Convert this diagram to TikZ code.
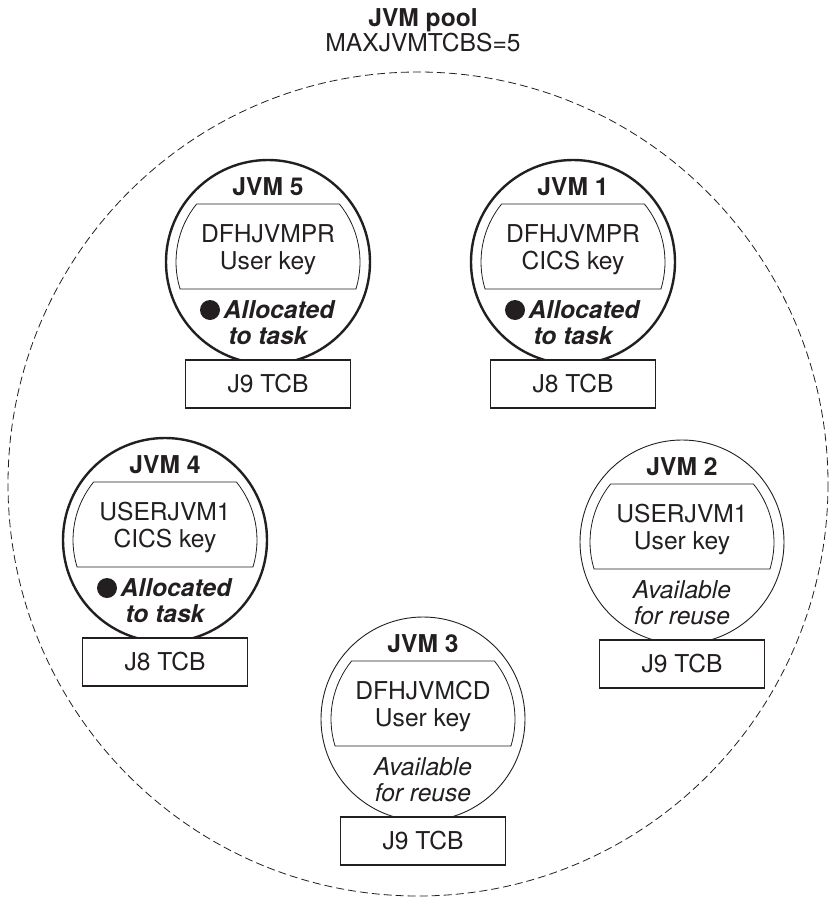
\documentclass[tikz,border=0pt]{standalone}
\usepackage{fontspec}
\setmainfont{TeX Gyre Heros}
\definecolor{ink}{HTML}{231F20}
\tikzset{
  txt/.style={inner sep=0pt, anchor=base, text=ink, font=\fontsize{24.6}{29}\selectfont},
  lbl/.style={txt, font=\fontsize{24.6}{29}\selectfont\bfseries},
  boldit/.style={txt, font=\fontsize{24.6}{29}\selectfont\bfseries\itshape},
  it/.style={txt, font=\fontsize{24.6}{29}\selectfont\itshape},
  alloccirc/.style={circle, draw=ink, line width=2.4pt, minimum size=204pt, inner sep=0pt},
  availcirc/.style={circle, draw=ink, line width=0.9pt, minimum size=204pt, inner sep=0pt},
  innershape/.style={draw=ink, line width=0.8pt},
  tcbbox/.style={draw=ink, line width=1.1pt, fill=white, minimum width=165pt, minimum height=48pt, inner sep=0pt},
  pool/.style={draw=ink, line width=0.8pt, dash pattern=on 8pt off 4pt},
}
\newcommand\jvmunit[9]{%
  % #1 name, #2 cx, #3 cy, #4 label, #5 line1, #6 line2, #7 alloc/avail, #8 box text, #9 status lines
  \begin{scope}[shift={(#2,#3)}]
    \node[#7circ] (#1) at (0,0) {};
    \draw[innershape] (-39.1:92) arc[start angle=-39.1, end angle=17.07, radius=92]
      -- (162.93:92) arc[start angle=162.93, end angle=219.1, radius=92] -- cycle;
    \node[lbl] (#1-lbl) at (0,-66.5) {#4};
    \node[txt] (#1-l1) at (0,-19.5) {#5};
    \node[txt] (#1-l2) at (0,7.5) {#6};
    #9
    \node[tcbbox] (#1-tcb) at (0,122) {};
    \node[txt] (#1-tcbt) at (0,130.5) {#8};
  \end{scope}%
}
\newcommand\allocstatus[1]{%
  \fill[ink] (-58,48) circle[radius=10];
  \node[boldit] (#1-s1) at (11,56.5) {Allocated};
  \node[boldit] (#1-s2) at (0,82.5) {to task};
}
\newcommand\availstatus[1]{%
  \node[it] (#1-s1) at (0,56.5) {Available};
  \node[it] (#1-s2) at (0,82.5) {for reuse};
}
\begin{document}
\begin{tikzpicture}[x=1pt, y=-1pt]
  \useasboundingbox (0,0) rectangle (830,899);
  \draw[pool] (418,484) ellipse[x radius=410, y radius=412];
  \node[lbl] (title) at (423,26.5) {JVM pool};
  \node[txt] (max) at (423,51.5) {MAXJVMTCBS=5};
  \jvmunit{jvm5}{268}{262}{JVM 5}{DFHJVMPR}{User key}{alloc}{J9 TCB}{\allocstatus{jvm5}}
  \jvmunit{jvm1}{573}{262}{JVM 1}{DFHJVMPR}{CICS key}{alloc}{J8 TCB}{\allocstatus{jvm1}}
  \jvmunit{jvm4}{165}{540}{JVM 4}{USERJVM1}{CICS key}{alloc}{J8 TCB}{\allocstatus{jvm4}}
  \jvmunit{jvm2}{682}{542}{JVM 2}{USERJVM1}{User key}{avail}{J9 TCB}{\availstatus{jvm2}}
  \jvmunit{jvm3}{423}{719}{JVM 3}{DFHJVMCD}{User key}{avail}{J9 TCB}{\availstatus{jvm3}}
\end{tikzpicture}
\end{document}
